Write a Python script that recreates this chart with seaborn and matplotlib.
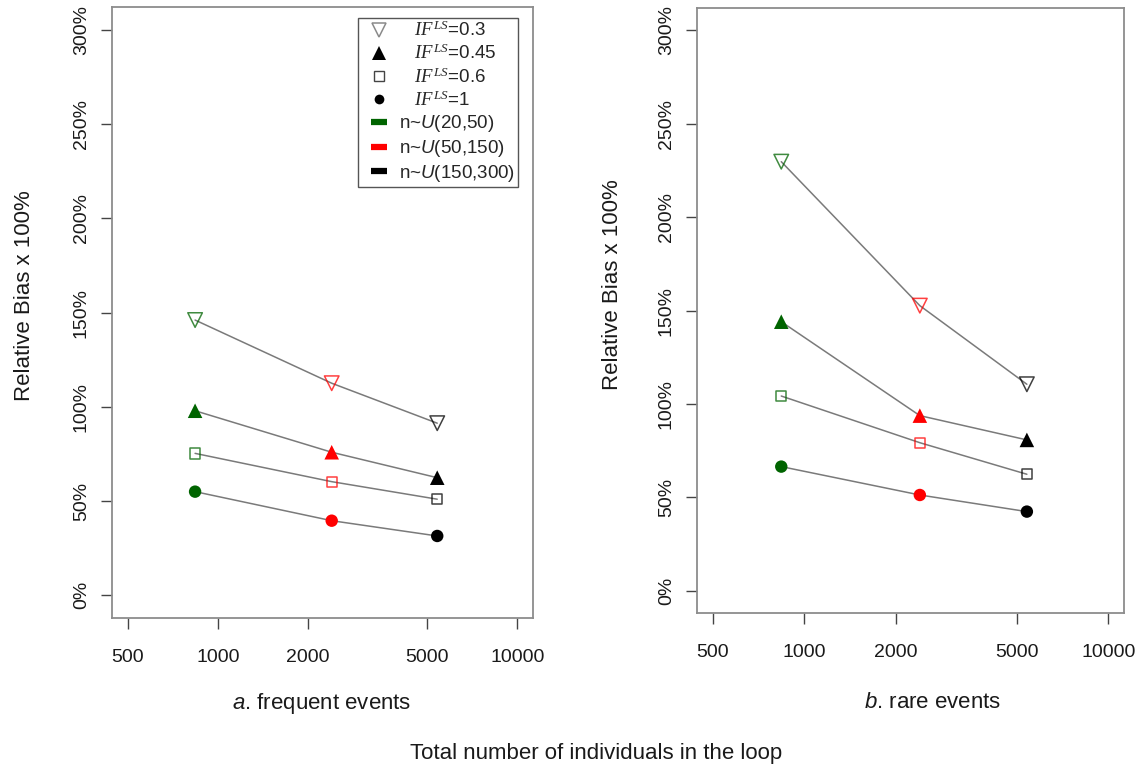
import numpy as np
import pandas as pd
import matplotlib
matplotlib.use("Agg")
import matplotlib.pyplot as plt
from matplotlib.lines import Line2D
import seaborn as sns

# ---------------- data ----------------
n_total = [840, 2400, 5400]                      # total individuals in the loop
n_groups = ["n~U(20,50)", "n~U(50,150)", "n~U(150,300)"]
if_levels = ["0.3", "0.45", "0.6", "1"]

# relative bias (%) -- panel a: frequent events
freq_if03 = [146.0, 112.5, 91.3]
freq_if045 = [97.9, 75.9, 62.4]
freq_if06 = [75.3, 60.3, 51.0]
freq_if1 = [55.0, 39.6, 31.5]

# relative bias (%) -- panel b: rare events
rare_if03 = [229.7, 152.6, 110.5]
rare_if045 = [144.0, 93.7, 80.7]
rare_if06 = [104.2, 79.2, 62.3]
rare_if1 = [66.4, 51.2, 42.3]

x_ticks = [500, 1000, 2000, 5000, 10000]
y_ticks = [0, 50, 100, 150, 200, 250, 300]

# ---------------- style ----------------
sns.set_style("white")
plt.rcParams["font.family"] = ["Liberation Sans", "DejaVu Sans"]
plt.rcParams["mathtext.fontset"] = "custom"
plt.rcParams["mathtext.it"] = "Liberation Serif:italic"
plt.rcParams["mathtext.rm"] = "Liberation Sans"
plt.rcParams["mathtext.bf"] = "Liberation Sans:italic"

W, H = 1141, 769
fig = plt.figure(figsize=(W / 100, H / 100), dpi=100)

def fx(px):
    return px / W

def fy(py):
    return 1 - py / H

group_colors = {"n~U(20,50)": "#006400", "n~U(50,150)": "#FF0000", "n~U(150,300)": "#000000"}
marker_spec = {
    "0.3": dict(marker="v", s=110, open=True),
    "0.45": dict(marker="^", s=110, open=False),
    "0.6": dict(marker="s", s=55, open=True),
    "1": dict(marker="o", s=80, open=False),
}

def make_df(vals):
    rows = []
    for lvl, v in zip(if_levels, vals):
        for x, g, y in zip(n_total, n_groups, v):
            rows.append(dict(n=x, group=g, IF=lvl, bias=y))
    return pd.DataFrame(rows)

df_freq = make_df([freq_if03, freq_if045, freq_if06, freq_if1])
df_rare = make_df([rare_if03, rare_if045, rare_if06, rare_if1])

def draw_panel(ax, df):
    for lvl in if_levels:
        sub = df[df["IF"] == lvl]
        sns.lineplot(data=sub, x="n", y="bias", color="#7a7a7a", lw=1.1,
                     ax=ax, legend=False, zorder=1)
    for lvl in if_levels:
        sub = df[df["IF"] == lvl]
        spec = marker_spec[lvl]
        before = len(ax.collections)
        sns.scatterplot(data=sub, x="n", y="bias", hue="group",
                        palette=group_colors, hue_order=n_groups,
                        marker=spec["marker"], s=spec["s"], ax=ax,
                        legend=False, zorder=3, linewidth=0 if not spec["open"] else 1.0)
        coll = ax.collections[before]
        if spec["open"]:
            fc = coll.get_facecolors()
            ec = fc.copy()
            ec[:, 3] = 0.75
            coll.set_facecolor("none")
            coll.set_edgecolor(ec)
            coll.set_linewidth(1.1)
    ax.set_xscale("log")
    ax.set_xlim(10 ** 2.647, 10 ** 4.052)
    ax.set_ylim(-12, 312)
    ax.set_xticks(x_ticks)
    ax.set_xticklabels([str(t) for t in x_ticks])
    ax.xaxis.set_minor_locator(matplotlib.ticker.NullLocator())
    ax.set_yticks(y_ticks)
    ax.set_yticklabels([f"{t}%" for t in y_ticks], rotation=90, va="center")
    ax.set_xlabel("")
    ax.set_ylabel("")
    ax.tick_params(axis="both", which="major", direction="out", length=8,
                   width=1.0, color="#444444", labelsize=14, labelcolor="#1a1a1a",
                   bottom=True, left=True, top=False, right=False)
    ax.tick_params(axis="x", pad=14)
    ax.tick_params(axis="y", pad=8)
    for sp in ax.spines.values():
        sp.set_color("#8c8c8c")
        sp.set_linewidth(1.3)
        sp.set_visible(True)

# axes placed by pixel frame boxes
axL = fig.add_axes([fx(112), fy(618), fx(533 - 112), (618 - 7) / H])
axR = fig.add_axes([fx(697), fy(613), fx(1124 - 697), (613 - 8) / H])

draw_panel(axL, df_freq)
draw_panel(axR, df_rare)

# y labels
fig.text(fx(25), fy(296), "Relative Bias x 100%", rotation=90, ha="center",
         va="center", fontsize=16, color="#1a1a1a")
fig.text(fx(612), fy(285), "Relative Bias x 100%", rotation=90, ha="center",
         va="center", fontsize=16, color="#1a1a1a")
# panel subtitles
fig.text(fx(322), fy(703), r"$\mathbf{a}$. frequent events", ha="center",
         va="center", fontsize=16, color="#1a1a1a")
fig.text(fx(933), fy(703), r"$\mathbf{b}$. rare events", ha="center",
         va="center", fontsize=16, color="#1a1a1a")
# common x label
fig.text(fx(596), fy(753), "Total number of individuals in the loop", ha="center",
         va="center", fontsize=16, color="#1a1a1a")

# legend
handles = [
    Line2D([], [], ls="none", marker="v", ms=10, mfc="none", mec="#8a8a8a", mew=1.1),
    Line2D([], [], ls="none", marker="^", ms=9.5, mfc="black", mec="black", mew=0),
    Line2D([], [], ls="none", marker="s", ms=7, mfc="none", mec="#444444", mew=1.0),
    Line2D([], [], ls="none", marker="o", ms=7, mfc="black", mec="black", mew=0),
    Line2D([], [], ls="none", marker="_", ms=12, mec="#006400", mew=4.5),
    Line2D([], [], ls="none", marker="_", ms=12, mec="#FF0000", mew=4.5),
    Line2D([], [], ls="none", marker="_", ms=12, mec="#000000", mew=4.5),
]
labels = [r"   $IF^{LS}$=" + l for l in if_levels] + [
    r"n~$\mathbf{U}$(20,50)", r"n~$\mathbf{U}$(50,150)", r"n~$\mathbf{U}$(150,300)"]
leg = fig.legend(handles, labels, loc="upper right",
                 bbox_to_anchor=(fx(518), fy(18)), bbox_transform=fig.transFigure,
                 fontsize=13.5, frameon=True, fancybox=False, framealpha=1,
                 edgecolor="#555555", handlelength=1.9, handletextpad=0.15,
                 borderpad=0.15, labelspacing=0.2, borderaxespad=0)
leg.get_frame().set_linewidth(1.0)

fig.savefig("out.png", dpi=100)
